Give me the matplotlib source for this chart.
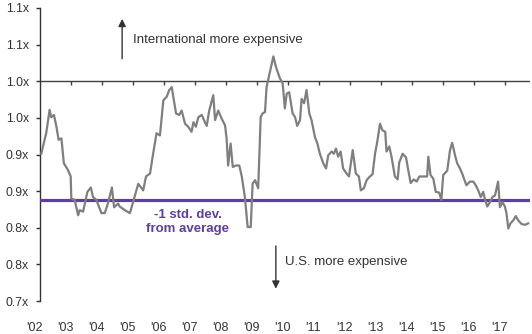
import matplotlib
matplotlib.use("Agg")
import matplotlib.pyplot as plt
import matplotlib.transforms as mtransforms

plt.rcParams["font.family"] = ["Liberation Sans", "DejaVu Sans"]

# Relative valuation (international vs. U.S.), traced as decimal year / ratio
years = [
    2002.04, 2002.20, 2002.31, 2002.36, 2002.45, 2002.53, 2002.60, 2002.69, 2002.77, 2002.90,
    2002.99, 2003.01, 2003.12, 2003.23, 2003.28, 2003.39, 2003.53, 2003.64, 2003.71, 2003.82,
    2003.98, 2004.09, 2004.19, 2004.32, 2004.39, 2004.52, 2004.57, 2004.74, 2004.90, 2004.99,
    2005.17, 2005.33, 2005.42, 2005.55, 2005.65, 2005.76, 2005.87, 2005.98, 2006.09, 2006.17,
    2006.25, 2006.30, 2006.39, 2006.49, 2006.57, 2006.68, 2006.78, 2006.89, 2006.95, 2007.03,
    2007.11, 2007.22, 2007.32, 2007.38, 2007.46, 2007.59, 2007.65, 2007.75, 2007.86, 2007.97,
    2008.02, 2008.07, 2008.15, 2008.22, 2008.32, 2008.43, 2008.51, 2008.61, 2008.70, 2008.80,
    2008.86, 2008.94, 2009.04, 2009.12, 2009.18, 2009.26, 2009.31, 2009.42, 2009.53, 2009.61,
    2009.74, 2009.83, 2009.90, 2009.96, 2010.04, 2010.15, 2010.23, 2010.30, 2010.39, 2010.44,
    2010.52, 2010.60, 2010.69, 2010.76, 2010.87, 2010.95, 2011.03, 2011.14, 2011.23, 2011.30,
    2011.41, 2011.48, 2011.55, 2011.62, 2011.70, 2011.78, 2011.89, 2011.97, 2012.09, 2012.19,
    2012.29, 2012.35, 2012.45, 2012.54, 2012.62, 2012.73, 2012.81, 2012.88, 2012.97, 2013.05,
    2013.14, 2013.18, 2013.27, 2013.35, 2013.45, 2013.54, 2013.59, 2013.70, 2013.81, 2013.88,
    2013.96, 2014.06, 2014.15, 2014.24, 2014.36, 2014.49, 2014.53, 2014.60, 2014.69, 2014.77,
    2014.88, 2014.95, 2015.01, 2015.14, 2015.23, 2015.30, 2015.39, 2015.46, 2015.55, 2015.64,
    2015.68, 2015.76, 2015.87, 2015.98, 2016.06, 2016.14, 2016.22, 2016.30, 2016.35, 2016.43,
    2016.52, 2016.60, 2016.68, 2016.78, 2016.84, 2016.92, 2017.00, 2017.05, 2017.11, 2017.18,
    2017.27, 2017.35, 2017.43, 2017.54, 2017.65, 2017.75,
]
ratio = [
    0.901, 0.929, 0.961, 0.951, 0.954, 0.938, 0.920, 0.922, 0.888, 0.879,
    0.870, 0.840, 0.838, 0.817, 0.824, 0.822, 0.849, 0.855, 0.842, 0.838,
    0.820, 0.820, 0.833, 0.855, 0.828, 0.833, 0.829, 0.824, 0.820, 0.833,
    0.860, 0.851, 0.870, 0.874, 0.901, 0.929, 0.926, 0.974, 0.979, 0.988,
    0.992, 0.979, 0.956, 0.954, 0.960, 0.942, 0.938, 0.931, 0.944, 0.938,
    0.951, 0.954, 0.944, 0.939, 0.960, 0.981, 0.947, 0.960, 0.949, 0.940,
    0.922, 0.885, 0.915, 0.883, 0.885, 0.885, 0.870, 0.842, 0.801, 0.801,
    0.860, 0.865, 0.854, 0.951, 0.956, 0.958, 0.992, 1.013, 1.034, 1.020,
    1.004, 0.997, 0.963, 0.983, 0.985, 0.956, 0.951, 0.939, 0.947, 0.976,
    0.970, 0.988, 0.956, 0.947, 0.924, 0.915, 0.901, 0.888, 0.881, 0.899,
    0.904, 0.901, 0.908, 0.897, 0.904, 0.881, 0.874, 0.870, 0.906, 0.874,
    0.870, 0.851, 0.854, 0.865, 0.869, 0.873, 0.901, 0.917, 0.942, 0.933,
    0.931, 0.904, 0.911, 0.895, 0.870, 0.866, 0.889, 0.901, 0.896, 0.879,
    0.861, 0.866, 0.863, 0.870, 0.870, 0.870, 0.897, 0.872, 0.867, 0.849,
    0.848, 0.838, 0.872, 0.878, 0.906, 0.916, 0.899, 0.888, 0.881, 0.872,
    0.867, 0.858, 0.863, 0.863, 0.858, 0.851, 0.842, 0.849, 0.840, 0.829,
    0.835, 0.842, 0.844, 0.863, 0.828, 0.835, 0.829, 0.820, 0.799, 0.806,
    0.810, 0.816, 0.810, 0.805, 0.804, 0.806,
]

avg_minus_1sd = 0.838
parity = 1.0

y_ticks = [0.70, 0.75, 0.80, 0.85, 0.90, 0.95, 1.00, 1.05, 1.10]
y_labels = ["0.7x", "0.8x", "0.8x", "0.9x", "0.9x", "1.0x", "1.0x", "1.1x", "1.1x"]
x_years = list(range(2002, 2018))
x_labels = ["'%02d" % (y % 100) for y in x_years]

gray = "#7f7f7f"
dark = "#333333"
purple = "#5e3f9e"

fig = plt.figure(figsize=(5.32, 3.34), dpi=100)
ax = fig.add_axes([40 / 532, 33 / 334, 490 / 532, 293 / 334])

ax.set_xlim(2002.0, 2017.81)
ax.set_ylim(0.70, 1.10)

# parity line with yearly ticks hanging below it
ax.axhline(parity, color="#404040", lw=1.0, zorder=2)
ax.vlines(x_years[1:], parity - 0.0055, parity, color="#404040", lw=1.0, zorder=2)

ax.axhline(avg_minus_1sd, color=purple, lw=2.3, zorder=3)
ax.plot(years, ratio, color=gray, lw=1.6, zorder=4)

for side in ["top", "right", "bottom"]:
    ax.spines[side].set_visible(False)
ax.spines["left"].set_color(dark)
ax.spines["left"].set_linewidth(1.0)

ax.set_yticks(y_ticks)
ax.set_yticklabels(y_labels)
ax.set_xticks(x_years)
ax.set_xticklabels(x_labels)
ax.tick_params(axis="y", length=3, width=1.0, color=dark, pad=5, labelsize=8.8, labelcolor=dark)
ax.tick_params(axis="x", length=0, pad=15, labelsize=9, labelcolor=dark)
shift = mtransforms.ScaledTranslation(-4 / 72, 0, fig.dpi_scale_trans)
for lbl in ax.get_xticklabels():
    lbl.set_transform(lbl.get_transform() + shift)

# direction arrows and labels
ax.annotate("", xy=(2004.65, 1.089), xytext=(2004.65, 1.027),
            arrowprops=dict(arrowstyle="-|>", color=dark, lw=1.0, mutation_scale=11))
ax.text(2005.0, 1.056, "International more expensive", fontsize=9.5, color=dark,
        ha="left", va="center")

ax.annotate("", xy=(2009.61, 0.713), xytext=(2009.61, 0.779),
            arrowprops=dict(arrowstyle="-|>", color=dark, lw=1.0, mutation_scale=11))
ax.text(2009.90, 0.753, "U.S. more expensive", fontsize=9.5, color=dark,
        ha="left", va="center")

ax.text(2006.77, 0.808, "-1 std. dev.\nfrom average", fontsize=9.5, color=purple,
        fontweight="bold", ha="center", va="center", linespacing=1.25)

fig.savefig("out.png", dpi=100)
